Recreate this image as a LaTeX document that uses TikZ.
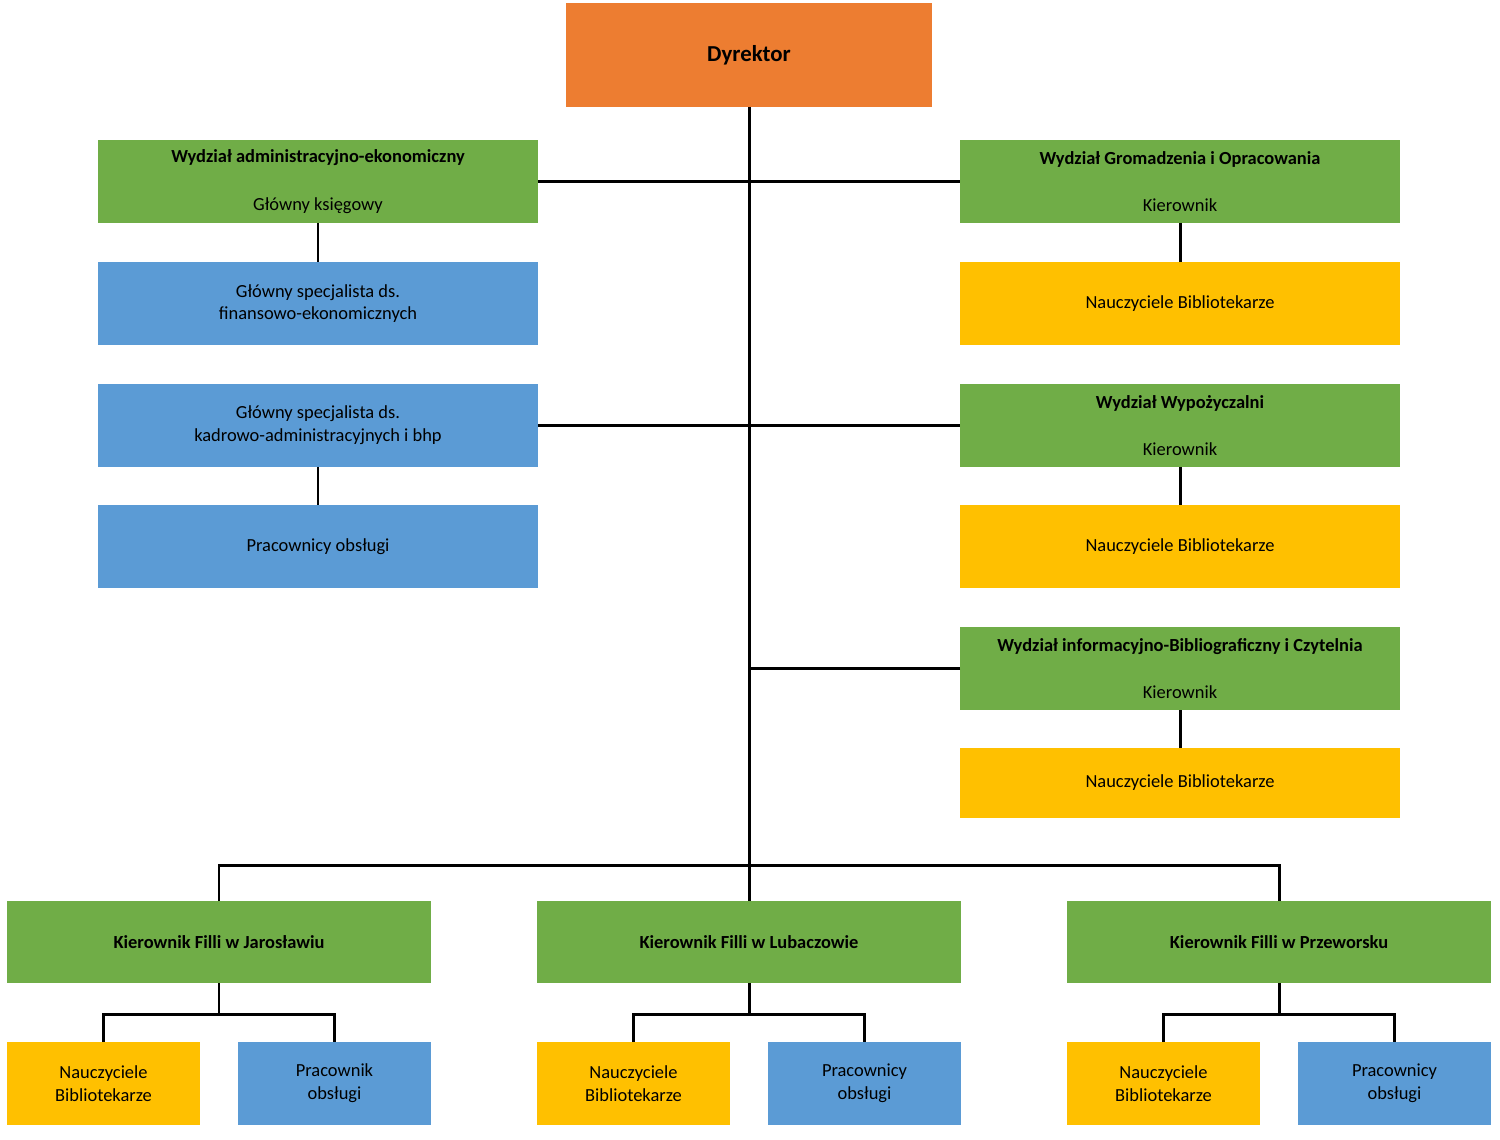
\documentclass[tikz,border=0pt]{standalone}
\usepackage{fontspec}
\setmainfont{Carlito}
\definecolor{dyrorange}{HTML}{ED7D31}
\definecolor{wydgreen}{HTML}{70AD47}
\definecolor{specblue}{HTML}{5B9BD5}
\definecolor{naugold}{HTML}{FFC000}
\tikzset{
	box/.style={draw=none, inner sep=0pt, outer sep=0pt, align=center, font=\fontsize{10.5}{13}\selectfont,
		minimum width=8.8cm, minimum height=1.66cm},
	green/.style={box, fill=wydgreen},
	blue/.style={box, fill=specblue},
	gold/.style={box, fill=naugold},
	small/.style={minimum width=3.86cm},
	wide/.style={minimum width=8.48cm, minimum height=1.64cm},
	link/.style={line width=1.7pt, black}
}
\begin{document}
\begin{tikzpicture}[x=0.02cm, y=-0.02cm]
	\useasboundingbox (0,0) rectangle (1500,1139);

	% director
	\node[box, fill=dyrorange, minimum width=7.32cm, minimum height=2.08cm, font=\fontsize{13}{15}\selectfont\bfseries] (dyr) at (749,55) {Dyrektor};

	% left column
	\node[green] (adm) at (318,181.5) {\textbf{Wydział administracyjno-ekonomiczny}\\[14pt]Główny księgowy};
	\node[blue] (fin) at (318,303.5) {Główny specjalista ds.\\finansowo-ekonomicznych};
	\node[blue] (kad) at (318,425.5) {Główny specjalista ds.\\kadrowo-administracyjnych i bhp};
	\node[blue] (obs) at (318,546.5) {Pracownicy obsługi};

	% right column
	\node[green] (gro) at (1180,181.5) {\textbf{Wydział Gromadzenia i Opracowania}\\[14pt]Kierownik};
	\node[gold] (groN) at (1180,303.5) {Nauczyciele Bibliotekarze};
	\node[green] (wyp) at (1180,425.5) {\textbf{Wydział Wypożyczalni}\\[14pt]Kierownik};
	\node[gold] (wypN) at (1180,546.5) {Nauczyciele Bibliotekarze};
	\node[green] (inf) at (1180,668.5) {\textbf{Wydział informacyjno-Bibliograficzny i Czytelnia}\\[14pt]Kierownik};
	\node[gold, minimum height=1.4cm] (infN) at (1180,783) {Nauczyciele Bibliotekarze};

	% branches
	\node[green, wide, font=\fontsize{10.5}{13}\selectfont\bfseries] (jar) at (219,942) {Kierownik Filli w Jarosławiu};
	\node[green, wide, font=\fontsize{10.5}{13}\selectfont\bfseries] (lub) at (749,942) {Kierownik Filli w Lubaczowie};
	\node[green, wide, font=\fontsize{10.5}{13}\selectfont\bfseries] (prz) at (1279,942) {Kierownik Filli w Przeworsku};
	\node[gold, small] (jarN) at (103.5,1083.5) {Nauczyciele\\Bibliotekarze};
	\node[blue, small] (jarP) at (334.5,1083.5) {Pracownik\\obsługi};
	\node[gold, small] (lubN) at (633.5,1083.5) {Nauczyciele\\Bibliotekarze};
	\node[blue, small] (lubP) at (864.5,1083.5) {Pracownicy\\obsługi};
	\node[gold, small] (przN) at (1163.5,1083.5) {Nauczyciele\\Bibliotekarze};
	\node[blue, small] (przP) at (1394.5,1083.5) {Pracownicy\\obsługi};

	% connectors
	\draw[link] (dyr.south) -- (lub.north);
	\draw[link] (adm.east) -- (gro.west);
	\draw[link] (kad.east) -- (wyp.west);
	\draw[link] (inf.west) -- (inf.west -| dyr.south);
	\draw[link] (adm) -- (fin);
	\draw[link] (kad) -- (obs);
	\draw[link] (gro) -- (groN);
	\draw[link] (wyp) -- (wypN);
	\draw[link] (inf) -- (infN);
	\coordinate (bus) at (749,865);
	\draw[link] (jar.north) |- (bus) -| (prz.north);
	\foreach \f in {jar,lub,prz} {
		\draw[link] (\f.south) -- ++(0,31) coordinate (\f b);
		\draw[link] (\f N.north) |- (\f b) -| (\f P.north);
	}
\end{tikzpicture}
\end{document}
